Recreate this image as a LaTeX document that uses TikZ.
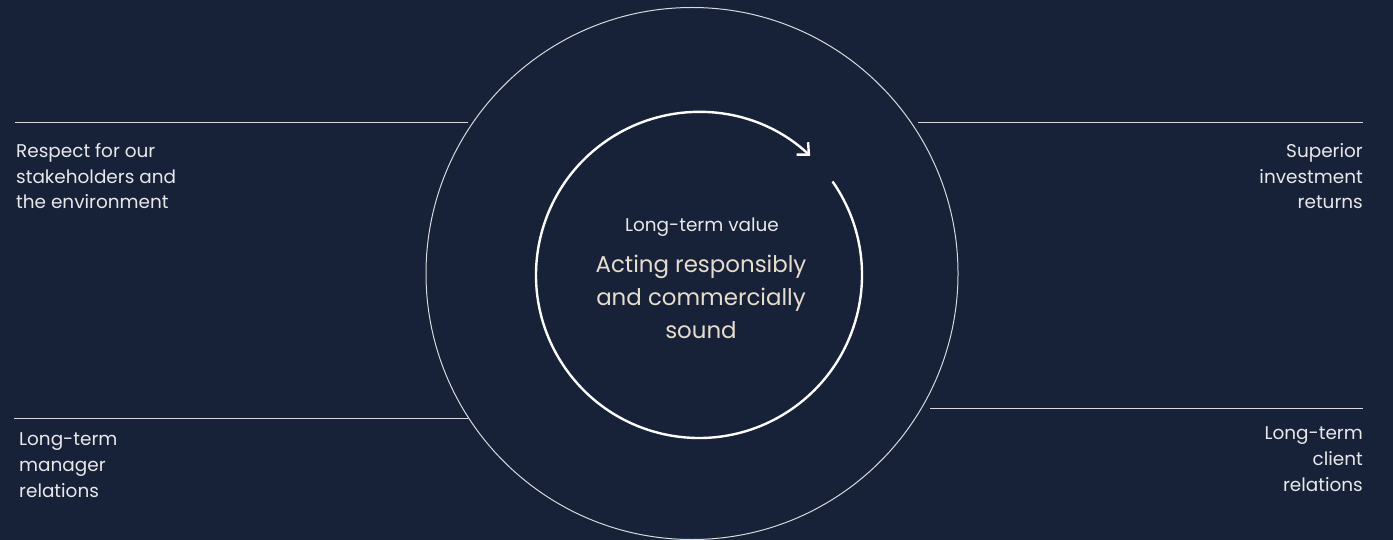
\documentclass[tikz,border=0pt]{standalone}
\usepackage{fontspec}
\setmainfont{Poppins}
\usetikzlibrary{arrows.meta}
\definecolor{bgc}{HTML}{172239}
\definecolor{txt}{HTML}{E8E8EA}
\definecolor{beige}{HTML}{E6DDCB}
\definecolor{linec}{HTML}{D8D9DC}
\tikzset{
  sidetext/.style={inner sep=0pt, text=txt, font=\fontsize{18.5}{26}\selectfont},
  thinline/.style={draw=linec, line width=1bp},
}
\begin{document}
\begin{tikzpicture}[x=1bp,y=-1bp]
\fill[bgc] (0,0) rectangle (1393,540);
\useasboundingbox (0,0) rectangle (1393,540);
% outer circle
\draw[thinline] (692,273.5) circle[radius=266];
% horizontal rules
\coordinate (tl1) at (15,122.5); \coordinate (tl2) at (468,122.5);
\coordinate (tr1) at (918,122.5); \coordinate (tr2) at (1363,122.5);
\coordinate (bl1) at (14,418); \coordinate (bl2) at (468,418);
\coordinate (br1) at (930,408); \coordinate (br2) at (1363,408);
\draw[thinline] (tl1) -- (tl2);
\draw[thinline] (tr1) -- (tr2);
\draw[thinline] (bl1) -- (bl2);
\draw[thinline] (br1) -- (br2);
% inner arrow arc
\coordinate (ic) at (699,275);
\draw[white, line width=2.4bp, -{Straight Barb[length=9bp,width=17bp,line width=2.4bp]}]
  ([shift={(-35:163)}]ic) arc[start angle=-35, end angle=313, radius=163];
% texts (base anchor = last line baseline)
\node[sidetext, anchor=base west, align=left] (resp) at (16,209) {Respect for our\\stakeholders and\\the environment};
\node[sidetext, anchor=base west, align=left] (mgr) at (19,497) {Long-term\\manager\\relations};
\node[sidetext, anchor=base east, align=right] (sup) at (1363,209) {Superior\\investment\\returns};
\node[sidetext, anchor=base east, align=right] (cli) at (1363,491) {Long-term\\client\\relations};
\node[sidetext, anchor=base] (ltv) at (702,232) {Long-term value};
\node[inner sep=0pt, text=beige, font=\fontsize{23}{33}\selectfont, align=center, anchor=base] (act) at (701,338) {Acting responsibly\\and commercially\\sound};
\end{tikzpicture}
\end{document}
